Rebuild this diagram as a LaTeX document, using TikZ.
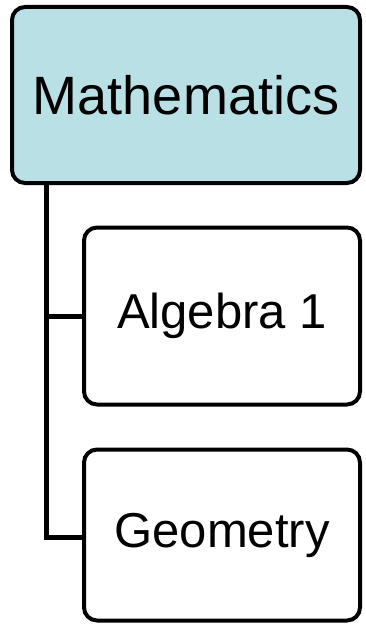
\documentclass[tikz,border=0pt]{standalone}
\usepackage{fontspec}
\setmainfont{Liberation Sans}
\definecolor{subjectcyan}{RGB}{185,224,228}

\begin{document}
\begin{tikzpicture}[x=1pt, y=1pt,
  every node/.style = {shape=rectangle, rounded corners=13pt, draw,
    line width=4pt, align=center},
  course/.style = {minimum width=276pt, fill=white,
    font=\fontsize{49}{56}\selectfont},
  link/.style = {line width=5pt}]
  \useasboundingbox (0,0) rectangle (365,-626);
  \node (math) [minimum width=348pt, minimum height=176pt, fill=subjectcyan,
    font=\fontsize{54}{62}\selectfont] at (186,-95) {Mathematics};
  \node (alg) [course, minimum height=177pt] at (222,-316) {Algebra 1};
  \node (geo) [course, minimum height=171pt] at (222,-535) {Geometry};
  % trunk down the left, one branch per course
  \draw[link] ([xshift=36pt]math.south west) |- (alg.west);
  \draw[link] ([xshift=36pt]math.south west) |- ([yshift=-2pt]geo.west);
\end{tikzpicture}
\end{document}
